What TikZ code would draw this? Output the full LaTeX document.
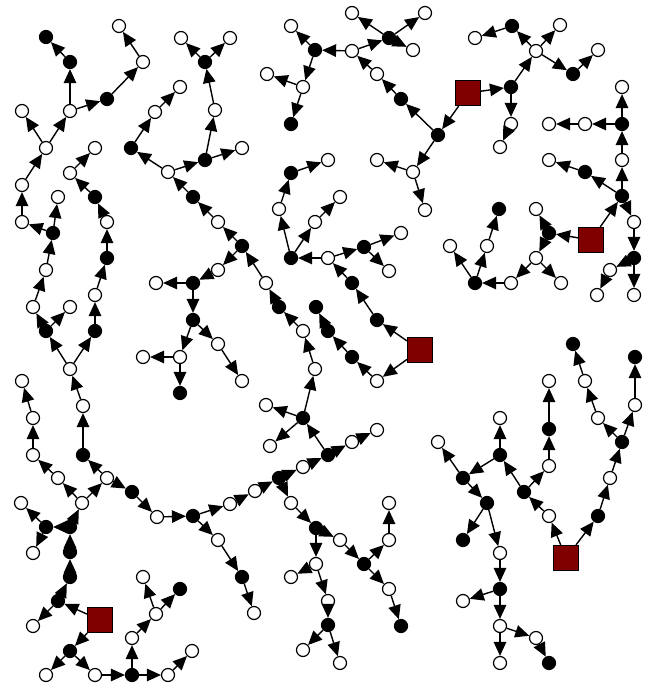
\documentclass[tikz,border=0pt]{standalone}
\usetikzlibrary{arrows.meta}
\definecolor{sqred}{RGB}{128,0,0}
\begin{document}
\begin{tikzpicture}[x=1pt,y=-1pt,
  wn/.style={circle,draw,fill=white,inner sep=0pt,minimum size=13pt,line width=1.2pt},
  bn/.style={circle,draw,fill=black,inner sep=0pt,minimum size=13pt,line width=1.2pt},
  sq/.style={rectangle,draw,fill=sqred,inner sep=0pt,minimum size=25pt,line width=1.2pt},
  edg/.style={-{Triangle[length=14pt,width=12.5pt]},line width=1.4pt}]
\useasboundingbox (0,0) rectangle (648,687);
% squares
\foreach \n/\x/\y in {S1/468/93,S2/591/240,S3/420/350,S4/566/558,S5/100/620}
  \node[sq] (\n) at (\x,\y) {};
% white nodes
\foreach \n/\x/\y in {a2/33/626,a7/21/503,a8/33/553,a9/82/503,a10/58/478,a11/33/455,a12/33/418,a13/22/381,a14/107/478,a16/83/406,a17/70/369,a19/70/307,a20/33/307,a21/46/270,a23/58/197,a24/22/222,a25/22/185,a26/46/148,a27/22/111,a28/70/111,a32/143/62,a33/119/26,a35/95/295,a37/107/222,a39/70/173,a40/95/148,a42/157/517,a44/218/540,a46/254/613,a47/230/504,a48/255/491,a50/291/503,a52/340/540,a54/389/540,a55/389/503,a56/389/589,a58/316/564,a59/291/577,a60/328/601,a62/303/650,a63/340/663,a64/303/467,a66/352/442,a67/377/430,a69/266/405,a70/270/446,a71/315/369,a72/303/331,a74/266/283,a76/218/270,a78/156/283,a80/180/357,a81/143/357,a83/218/344,a84/242/381,a85/218/222,a87/168/172,a89/155/112,a90/180/87,a92/242/148,a93/215/110,a95/181/38,a96/230/38,b2/46/675,b3/95/675,b5/132/638,b6/156/614,b7/143/577,b9/168/675,b10/192/651,
  c2/536/51,c4/475/38,c5/560/25,c7/598/50,c8/511/124,c9/500/147,c11/413/172,c12/377/160,c13/425/210,c15/377/74,c16/352/51,c18/352/13,c19/425/13,c20/413/50,c22/291/26,c23/303/87,c24/267/74,
  d2/622/160,d4/622/87,d5/585/124,d6/549/124,d8/549/160,d9/634/222,d11/634/295,d12/610/270,d13/597/295,d15/536/209,d16/536/258,d17/561/283,d18/511/283,d20/450/246,d21/487/246,
  e3/328/258,e5/279/209,e7/328/160,e8/315/222,e9/340/197,e11/401/233,e12/389/271,e13/377/381,
  f1/549/516,f3/549/466,f5/549/381,f7/500/418,f9/438/442,f12/500/553,f14/463/601,f15/500/626,f16/500/663,f17/536/638,g2/610/478,g4/598/418,g5/585/381,g7/635/405}
  \node[wn] (\n) at (\x,\y) {};
% black nodes
\foreach \n/\x/\y in {a1/58/601,a3/70/577,a4/70/552,a5/70/527,a6/46/527,a15/83/455,a18/46/331,a22/53/233,a29/70/62,a30/46/37,a31/107/99,a34/95/331,a36/107/258,a38/95/197,a41/132/492,a43/193/516,a45/242/577,a49/279/478,a51/316/528,a53/364/564,a57/401/626,a61/328/625,a65/328/455,a68/303/418,a73/279/307,a75/242/246,a77/193/283,a79/193/320,a82/180/393,a86/193/197,a88/131/148,a91/205/160,a94/205/62,b1/70/651,b4/132/675,b8/180/589,
  c1/511/87,c3/512/26,c6/573/74,c10/438/135,c14/401/99,c17/389/38,c21/315/50,c25/291/124,
  d1/622/196,d3/622/124,d7/585/172,d10/634/258,d14/549/233,d19/475/283,d22/499/209,
  e1/377/320,e2/352/283,e4/291/258,e6/291/173,e10/364/247,e14/352/357,e15/328/331,e16/316/307,
  f2/524/492,f4/549/429,f6/500/455,f8/463/478,f10/487/503,f11/463/540,f13/500/589,f18/549/663,g1/598/516,g3/622/442,g6/573/344,g8/635/357}
  \node[bn] (\n) at (\x,\y) {};
% edges
\foreach \s/\t in {S5/a1,a1/a2,a1/a3,a3/a4,a4/a5,a5/a6,a6/a7,a6/a8,a5/a9,a9/a10,a10/a11,a11/a12,a12/a13,a9/a14,a14/a15,a15/a16,a16/a17,a17/a18,a18/a19,a18/a20,a20/a21,a21/a22,a22/a23,a22/a24,a24/a25,a25/a26,a26/a27,a26/a28,a28/a29,a29/a30,a28/a31,a31/a32,a32/a33,a17/a34,a34/a35,a35/a36,a36/a37,a37/a38,a38/a39,a39/a40,a14/a41,a41/a42,a42/a43,a43/a44,a44/a45,a45/a46,a43/a47,a47/a48,a48/a49,a49/a50,a50/a51,a51/a52,a52/a53,a53/a54,a54/a55,a53/a56,a56/a57,a51/a58,a58/a59,a58/a60,a60/a61,a61/a62,a61/a63,a49/a64,a64/a65,a65/a66,a66/a67,a65/a68,a68/a69,a68/a70,a68/a71,a71/a72,a72/a73,a73/a74,a74/a75,a75/a76,a76/a77,a77/a78,a77/a79,a79/a80,a80/a81,a80/a82,a79/a83,a83/a84,a75/a85,a85/a86,a86/a87,a87/a88,a88/a89,a89/a90,a87/a91,a91/a92,a91/a93,a93/a94,a94/a95,a94/a96,S5/b1,b1/b2,b1/b3,b3/b4,b4/b5,b5/b6,b6/b7,b6/b8,b4/b9,b9/b10,
  S1/c1,c1/c2,c2/c3,c3/c4,c2/c5,c2/c6,c6/c7,c1/c8,c8/c9,S1/c10,c10/c11,c11/c12,c11/c13,c10/c14,c14/c15,c15/c16,c16/c17,c17/c18,c17/c19,c17/c20,c16/c21,c21/c22,c21/c23,c23/c24,c23/c25,
  S2/d1,d1/d2,d2/d3,d3/d4,d3/d5,d5/d6,d1/d7,d7/d8,d1/d9,d9/d10,d10/d11,d10/d12,d12/d13,S2/d14,d14/d15,d14/d16,d16/d17,d16/d18,d18/d19,d19/d20,d19/d21,d21/d22,
  S3/e1,e1/e2,e2/e3,e3/e4,e4/e5,e5/e6,e6/e7,e4/e8,e8/e9,e3/e10,e10/e11,e10/e12,S3/e13,e13/e14,e14/e15,e15/e16,
  S4/f1,f1/f2,f2/f3,f3/f4,f4/f5,f2/f6,f6/f7,f6/f8,f8/f9,f8/f10,f10/f11,f10/f12,f12/f13,f13/f14,f13/f15,f15/f16,f15/f17,f17/f18,S4/g1,g1/g2,g2/g3,g3/g4,g4/g5,g5/g6,g3/g7,g7/g8}
  \draw[edg] (\s) -- (\t);
\end{tikzpicture}
\end{document}
